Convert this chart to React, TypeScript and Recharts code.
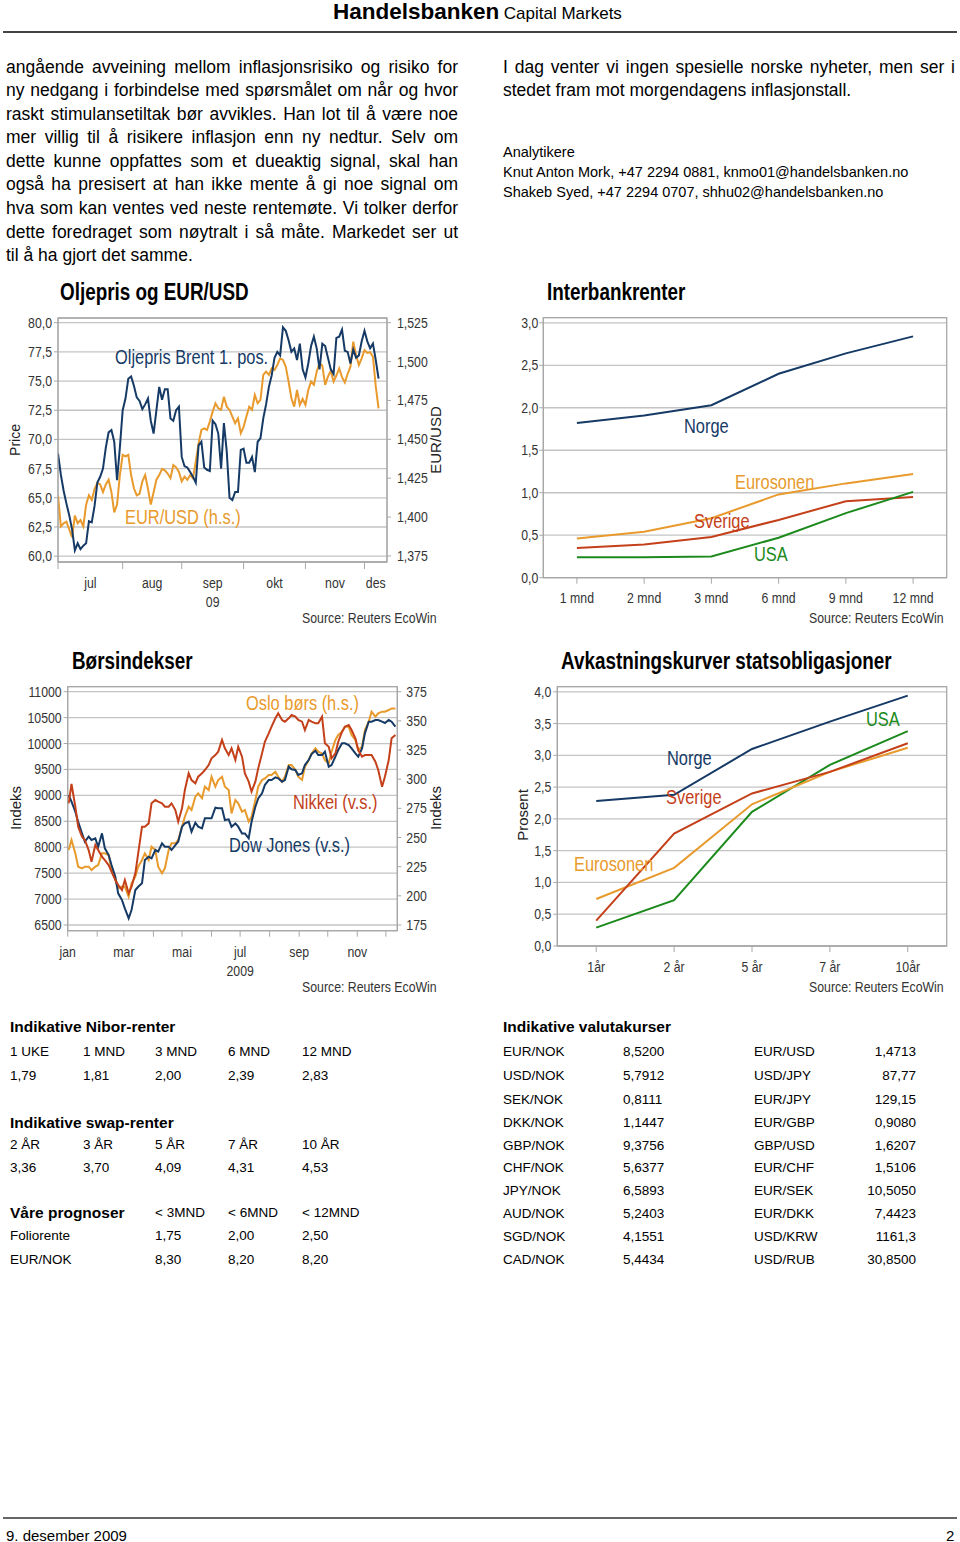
import React from "react";
import { LineChart, Line, XAxis, YAxis, CartesianGrid, ReferenceArea } from "recharts";

const SANS = '"Liberation Sans", Arial, Helvetica, sans-serif';
const SQUEEZE = 0.82; // Arial Narrow look from Liberation Sans

const NAVY = "#163a66";
const ORANGE = "#e89a2c";
const RED = "#c4401a";
const GREEN = "#1c8a1c";
const GRID = "#c4c4c4";
const AXIS = "#a8a8a8";
const INK = "#333";

// ---- Oljepris og EUR/USD (trading days from 1 July 2009) ----
const oilMonthStarts = [0, 23, 44, 66, 88, 109];
const oilMonthNames = ["jul", "aug", "sep", "okt", "nov", "des"];
const oilYearLine = ["", "", "09", "", "", ""];
const oilDomainEnd = 117;
const oilLeftTicks = [60, 62.5, 65, 67.5, 70, 72.5, 75, 77.5, 80];
const oilRightTicks = [1.375, 1.4, 1.425, 1.45, 1.475, 1.5, 1.525];

const oilPrice = [
  68.8, 67.0, 65.6, 64.5, 63.5, 62.3, 60.5, 61.1, 60.6, 60.9,
  61.1, 63.0, 62.9, 64.3, 66.3, 66.8, 67.5, 69.3, 70.6, 70.8,
  69.8, 66.5, 69.3, 72.5, 73.5, 75.2, 75.4, 74.6, 73.6, 73.3,
  72.6, 73.0, 73.5, 71.6, 70.5, 72.5, 74.5, 73.4, 74.3, 74.3,
  71.8, 71.6, 72.5, 72.8, 68.5, 67.7, 67.6, 67.2, 66.8, 66.3,
  69.5, 69.8, 67.6, 67.4, 67.3, 71.6, 71.3, 70.5, 67.5, 71.4,
  69.0, 65.0, 64.8, 65.5, 65.5, 69.1, 69.2, 68.0, 68.0, 68.5,
  67.2, 69.8, 70.1, 71.8, 73.0, 74.5, 75.5, 77.0, 77.5, 77.2,
  79.6, 79.3, 78.5, 77.5, 77.8, 76.8, 78.2, 76.0, 75.3, 76.5,
  78.0, 78.8, 77.8, 76.0, 78.2, 78.0, 77.0, 76.0, 75.6, 78.7,
  78.8, 79.4, 77.6, 77.5, 76.5, 77.7, 77.0, 77.2, 78.4, 79.3,
  78.4, 77.8, 78.2, 76.8, 75.2,
];

const eurUsd = [
  1.414, 1.394, 1.396, 1.397, 1.392, 1.387, 1.401, 1.396, 1.398, 1.394,
  1.408, 1.414, 1.411, 1.418, 1.422, 1.421, 1.416, 1.421, 1.424, 1.416,
  1.403, 1.408, 1.427, 1.44, 1.439, 1.44, 1.427, 1.4185, 1.414, 1.415,
  1.423, 1.427, 1.418, 1.408, 1.416, 1.424, 1.427, 1.431, 1.43, 1.428,
  1.425, 1.4335, 1.432, 1.429, 1.423, 1.426, 1.424, 1.427, 1.425, 1.4356,
  1.4474, 1.456, 1.457, 1.456, 1.4614, 1.4678, 1.4731, 1.4699, 1.469, 1.4774,
  1.471, 1.4689, 1.4646, 1.4603, 1.4635, 1.4539, 1.458, 1.4646, 1.471, 1.469,
  1.4785, 1.4732, 1.4753, 1.4914, 1.4935, 1.4914, 1.4956, 1.4946, 1.4978, 1.502,
  1.501, 1.4967, 1.4871, 1.4764, 1.471, 1.4817, 1.4721, 1.476, 1.4721, 1.4817,
  1.4871, 1.485, 1.4935, 1.4989, 1.4975, 1.485, 1.4903, 1.494, 1.4871, 1.491,
  1.4956, 1.49, 1.4865, 1.492, 1.4967, 1.5128, 1.5042, 1.4978, 1.502, 1.5074,
  1.5055, 1.506, 1.5031, 1.484, 1.4699,
];

// ---- Interbankrenter ----
const ibTerms = ["1 mnd", "2 mnd", "3 mnd", "6 mnd", "9 mnd", "12 mnd"];
const ibNorge = [1.82, 1.91, 2.03, 2.4, 2.64, 2.84];
const ibEuro = [0.46, 0.54, 0.7, 0.98, 1.11, 1.22];
const ibSverige = [0.35, 0.39, 0.48, 0.68, 0.9, 0.95];
const ibUsa = [0.24, 0.24, 0.25, 0.47, 0.76, 1.01];
const ibTicks = [0, 0.5, 1, 1.5, 2, 2.5, 3];

// ---- Børsindekser (calendar day of 2009) ----
const stockMonthStarts = [0, 31, 59, 90, 120, 151, 181, 212, 243, 273, 304, 334];
const stockMonthNames = ["jan", "", "mar", "", "mai", "", "jul", "", "sep", "", "nov", ""];
const stockYearLine = ["", "", "", "", "", "", "2009", "", "", "", "", ""];
const stockDomainEnd = 346;
const stockLeftTicks = [6500, 7000, 7500, 8000, 8500, 9000, 9500, 10000, 10500, 11000];
const stockRightTicks = [175, 200, 225, 250, 275, 300, 325, 350, 375];

const stockDays = [
  1, 4, 8, 11, 15, 18, 22, 25, 29, 32,
  36, 39, 43, 46, 50, 53, 57, 60, 64, 67,
  71, 74, 78, 81, 85, 88, 92, 95, 99, 102,
  106, 109, 113, 116, 120, 123, 127, 130, 134, 137,
  141, 144, 148, 151, 155, 158, 162, 165, 169, 172,
  176, 179, 183, 186, 190, 193, 197, 200, 204, 207,
  211, 214, 218, 221, 225, 228, 232, 235, 239, 242,
  246, 249, 253, 256, 260, 263, 267, 270, 274, 277,
  281, 284, 288, 291, 295, 298, 302, 305, 309, 312,
  316, 319, 323, 326, 330, 333, 337, 340, 344,
];

const dowJones = [
  9007, 8878, 8685, 8492, 8267, 8107, 8203, 8139, 8171, 8010,
  8267, 7978, 7849, 7656, 7431, 7110, 6981, 6820, 6628, 6788,
  7174, 7238, 7303, 7753, 7817, 7785, 7946, 7914, 8074, 8010,
  8010, 7946, 8042, 8107, 8396, 8460, 8492, 8299, 8473, 8396,
  8364, 8557, 8557, 8557, 8762, 8750, 8750, 8525, 8537, 8396,
  8460, 8396, 8267, 8267, 8171, 8492, 8782, 8942, 9039, 9200,
  9296, 9296, 9348, 9328, 9264, 9296, 9553, 9502, 9489, 9393,
  9425, 9585, 9682, 9798, 9862, 9778, 9778, 9843, 9553, 9585,
  9746, 9875, 10003, 10003, 9971, 9907, 9810, 9746, 9907, 10196,
  10421, 10421, 10453, 10453, 10421, 10396, 10453, 10421, 10325,
];

const nikkei = [
  8846, 9219, 8782, 8396, 8203, 8139, 7946, 7721, 8042, 7946,
  7817, 7753, 7656, 7528, 7367, 7271, 7174, 7367, 7110, 7238,
  7496, 7881, 8396, 8396, 8460, 8846, 8910, 8878, 8846, 8782,
  8782, 8846, 8717, 8492, 8750, 9103, 9425, 9296, 9232, 9360,
  9425, 9489, 9585, 9714, 9778, 9843, 10068, 9907, 9778, 9907,
  9682, 9939, 9746, 9425, 9264, 9071, 9264, 9521, 9810, 10035,
  10196, 10325, 10486, 10582, 10454, 10421, 10486, 10550, 10518, 10454,
  10421, 10261, 10454, 10421, 10389, 10389, 10518, 10003, 9939, 9714,
  9810, 10035, 10228, 10325, 10357, 10261, 10100, 9875, 9746, 9778,
  9778, 9778, 9650, 9489, 9167, 9360, 9682, 10100, 10164,
];

const osloBors = [
  239.3, 247.9, 236.4, 225.0, 223.6, 225.0, 225.0, 222.1, 225.0, 226.4,
  236.4, 236.4, 235.0, 222.1, 213.6, 206.4, 207.9, 207.9, 199.3, 210.7,
  216.4, 225.0, 230.7, 236.4, 230.7, 242.1, 239.3, 225.0, 219.3, 223.6,
  239.3, 245.0, 245.0, 247.9, 259.3, 267.9, 276.4, 273.6, 285.0, 287.9,
  283.6, 293.6, 290.7, 302.1, 293.6, 299.3, 302.1, 293.6, 290.7, 270.7,
  282.1, 279.3, 272.1, 273.6, 263.6, 267.9, 282.1, 293.6, 299.3, 300.7,
  303.6, 303.6, 306.4, 302.1, 297.9, 302.1, 312.1, 312.1, 307.9, 302.1,
  299.3, 310.7, 316.4, 322.1, 326.4, 323.6, 322.1, 316.4, 313.6, 323.6,
  333.6, 337.9, 340.7, 345.0, 345.0, 337.9, 333.6, 325.0, 327.9, 342.1,
  349.3, 357.9, 353.6, 356.4, 357.9, 357.9, 359.3, 360.7, 360.7,
];

// ---- Avkastningskurver statsobligasjoner ----
const ycTerms = ["1år", "2 år", "5 år", "7 år", "10år"];
const ycNorge = [2.28, 2.38, 3.1, 3.53, 3.94];
const ycSverige = [0.4, 1.77, 2.4, 2.74, 3.19];
const ycEuro = [0.74, 1.23, 2.23, 2.74, 3.12];
const ycUsa = [0.29, 0.72, 2.11, 2.85, 3.38];
const ycTicks = [0, 0.5, 1, 1.5, 2, 2.5, 3, 3.5, 4];

// ---- tables ----
const niborHead = ["1 UKE", "1 MND", "3 MND", "6 MND", "12 MND"];
const niborVals = ["1,79", "1,81", "2,00", "2,39", "2,83"];
const swapHead = ["2 ÅR", "3 ÅR", "5 ÅR", "7 ÅR", "10 ÅR"];
const swapVals = ["3,36", "3,70", "4,09", "4,31", "4,53"];
const progHead = ["< 3MND", "< 6MND", "< 12MND"];
const progFolio = ["1,75", "2,00", "2,50"];
const progEurNok = ["8,30", "8,20", "8,20"];

const fxLeftNames = ["EUR/NOK", "USD/NOK", "SEK/NOK", "DKK/NOK", "GBP/NOK", "CHF/NOK", "JPY/NOK", "AUD/NOK", "SGD/NOK", "CAD/NOK"];
const fxLeftVals = ["8,5200", "5,7912", "0,8111", "1,1447", "9,3756", "5,6377", "6,5893", "5,2403", "4,1551", "5,4434"];
const fxRightNames = ["EUR/USD", "USD/JPY", "EUR/JPY", "EUR/GBP", "GBP/USD", "EUR/CHF", "EUR/SEK", "EUR/DKK", "USD/KRW", "USD/RUB"];
const fxRightVals = ["1,4713", "87,77", "129,15", "0,9080", "1,6207", "1,5106", "10,5050", "7,4423", "1161,3", "30,8500"];

const leftText = [
  "angående avveining mellom inflasjonsrisiko og risiko for",
  "ny nedgang i forbindelse med spørsmålet om når og hvor",
  "raskt stimulansetiltak bør avvikles. Han lot til å være noe",
  "mer villig til å risikere inflasjon enn ny nedtur. Selv om",
  "dette kunne oppfattes som et dueaktig signal, skal han",
  "også ha presisert at han ikke mente å gi noe signal om",
  "hva som kan ventes ved neste rentemøte. Vi tolker derfor",
  "dette foredraget som nøytralt i så måte. Markedet ser ut",
  "til å ha gjort det samme.",
];
const rightText = [
  "I dag venter vi ingen spesielle norske nyheter, men ser i",
  "stedet fram mot morgendagens inflasjonstall.",
];
const analysts = [
  "Analytikere",
  "Knut Anton Mork, +47 2294 0881, knmo01@handelsbanken.no",
  "Shakeb Syed, +47 2294 0707, shhu02@handelsbanken.no",
];

const comma = (d: number) => (v: number) => v.toFixed(d).replace(".", ",");
const plain = (v: number) => String(v);
const emptyTick = () => <g />;

function NarrowSvgText({ x, y, anchor, dy, children }: any) {
  return (
    <text
      transform={`translate(${x},${y}) scale(${SQUEEZE},1)`}
      x={0}
      y={0}
      dy={dy}
      textAnchor={anchor}
      fill={INK}
      fontSize={15}
      fontFamily={SANS}
    >
      {children}
    </text>
  );
}

function yTick(fmt: (v: number) => string) {
  return (p: any) => (
    <NarrowSvgText x={p.x} y={p.y} anchor={p.textAnchor} dy={5}>
      {fmt(p.payload.value)}
    </NarrowSvgText>
  );
}

function bottomTick(labels: Map<any, string[]>, dy: number, gap: number) {
  return (p: any) => {
    const lines = labels.get(p.payload.value) ?? [];
    return (
      <g>
        {lines.map((s, i) =>
          s ? (
            <NarrowSvgText key={i} x={p.x} y={p.y} anchor="middle" dy={dy + i * gap}>
              {s}
            </NarrowSvgText>
          ) : null
        )}
      </g>
    );
  };
}

function Txt({ x, y, size, color = "#000", bold = false, narrow = false, children }: any) {
  return (
    <div
      style={{
        position: "absolute",
        left: x,
        top: y - size * 0.5,
        fontSize: size,
        lineHeight: `${size}px`,
        color,
        fontWeight: bold ? 700 : 400,
        fontFamily: SANS,
        whiteSpace: "nowrap",
        transform: narrow ? `scaleX(${SQUEEZE})` : undefined,
        transformOrigin: "0 50%",
      }}
    >
      {children}
    </div>
  );
}

function RTxt({ x, y, size, children }: any) {
  return (
    <div
      style={{
        position: "absolute",
        right: 960 - x,
        top: y - size * 0.5,
        fontSize: size,
        lineHeight: `${size}px`,
        fontFamily: SANS,
        whiteSpace: "nowrap",
      }}
    >
      {children}
    </div>
  );
}

function VTxt({ x, y, size, children }: any) {
  return (
    <div
      style={{
        position: "absolute",
        left: x,
        top: y,
        fontSize: size,
        lineHeight: `${size}px`,
        fontFamily: SANS,
        color: "#222",
        whiteSpace: "nowrap",
        transform: "translate(-50%, -50%) rotate(-90deg)",
      }}
    >
      {children}
    </div>
  );
}

function Para({ x, y, width, size, lh, lines, justify }: any) {
  return (
    <div style={{ position: "absolute", left: x, top: y, width, fontSize: size, lineHeight: `${lh}px`, fontFamily: SANS }}>
      {lines.map((l: string, i: number) => (
        <div
          key={i}
          style={{
            textAlign: justify ? "justify" : "left",
            textAlignLast: justify && i < lines.length - 1 ? "justify" : "left",
          }}
        >
          {l}
        </div>
      ))}
    </div>
  );
}

function Box({ x, y, children }: any) {
  return <div style={{ position: "absolute", left: x, top: y }}>{children}</div>;
}

const axisLine = { stroke: AXIS };

function OilChart() {
  const rows = oilPrice.map((v, i) => ({ day: i, oil: v, eur: eurUsd[i] }));
  const mids = oilMonthStarts.map((s, i) => (s + (oilMonthStarts[i + 1] ?? oilDomainEnd)) / 2);
  const labels = new Map(mids.map((m, i) => [m, [oilMonthNames[i], oilYearLine[i]]]));
  return (
    <LineChart width={480} height={330} data={rows} margin={{ top: 13, right: 33, bottom: 21, left: 13 }}>
      <CartesianGrid xAxisId="a" yAxisId="l" vertical={false} stroke={GRID} strokeWidth={1.3} />
      <ReferenceArea xAxisId="a" yAxisId="l" y1={59.5} y2={80.4} fill="none" stroke={AXIS} strokeWidth={1.3} />
      <XAxis xAxisId="b" dataKey="day" type="number" domain={[0, oilDomainEnd]} ticks={mids} interval={0} tick={bottomTick(labels, 19, 19)} tickSize={0} tickMargin={0} tickLine={false} axisLine={false} height={45} allowDataOverflow />
      <XAxis xAxisId="a" dataKey="day" type="number" domain={[0, oilDomainEnd]} ticks={oilMonthStarts} interval={0} tick={emptyTick} tickSize={7} height={7} axisLine={axisLine} tickLine={axisLine} allowDataOverflow />
      <YAxis yAxisId="l" domain={[59.5, 80.4]} ticks={oilLeftTicks} interval={0} width={45} tickSize={4} tickMargin={2} tick={yTick(comma(1))} axisLine={axisLine} tickLine={axisLine} allowDataOverflow />
      <YAxis yAxisId="r" orientation="right" domain={[1.3711, 1.528]} ticks={oilRightTicks} interval={0} width={60} tickSize={4} tickMargin={6} tick={yTick(comma(3))} axisLine={axisLine} tickLine={axisLine} allowDataOverflow />
      <Line xAxisId="a" yAxisId="r" dataKey="eur" stroke={ORANGE} strokeWidth={2} dot={false} isAnimationActive={false} />
      <Line xAxisId="a" yAxisId="l" dataKey="oil" stroke={NAVY} strokeWidth={2} dot={false} isAnimationActive={false} />
    </LineChart>
  );
}

function InterbankChart() {
  const rows = ibTerms.map((t, i) => ({ pos: i, norge: ibNorge[i], euro: ibEuro[i], sverige: ibSverige[i], usa: ibUsa[i] }));
  const labels = new Map(ibTerms.map((t, i) => [i, [t]]));
  return (
    <LineChart width={480} height={330} data={rows} margin={{ top: 12.7, right: 13.3, bottom: 17.3, left: 23.3 }}>
      <CartesianGrid vertical={false} stroke={GRID} strokeWidth={1.3} />
      <ReferenceArea y1={0} y2={3.06} fill="none" stroke={AXIS} strokeWidth={1.3} />
      <XAxis dataKey="pos" type="number" domain={[-0.5, ibTerms.length - 0.5]} ticks={rows.map((r) => r.pos)} interval={0} tickSize={6} tickMargin={0} tick={bottomTick(labels, 19, 19)} height={40} axisLine={axisLine} tickLine={axisLine} allowDataOverflow />
      <YAxis domain={[0, 3.06]} ticks={ibTicks} interval={0} width={40} tickSize={4} tickMargin={1} tick={yTick(comma(1))} axisLine={axisLine} tickLine={axisLine} allowDataOverflow />
      <Line dataKey="norge" stroke={NAVY} strokeWidth={2} dot={false} isAnimationActive={false} />
      <Line dataKey="euro" stroke={ORANGE} strokeWidth={2} dot={false} isAnimationActive={false} />
      <Line dataKey="sverige" stroke={RED} strokeWidth={2} dot={false} isAnimationActive={false} />
      <Line dataKey="usa" stroke={GREEN} strokeWidth={2} dot={false} isAnimationActive={false} />
    </LineChart>
  );
}

function StockChart() {
  const rows = stockDays.map((d, i) => ({ day: d, dow: dowJones[i], nikkei: nikkei[i], oslo: osloBors[i] }));
  const labels = new Map(stockMonthStarts.map((s, i) => [s, [stockMonthNames[i], stockYearLine[i]]]));
  return (
    <LineChart width={480} height={330} data={rows} margin={{ top: 16.7, right: 32.7, bottom: 19.3, left: 12.7 }}>
      <CartesianGrid xAxisId="m" yAxisId="l" vertical={false} stroke={GRID} strokeWidth={1.3} />
      <ReferenceArea xAxisId="m" yAxisId="l" y1={6390} y2={11096} fill="none" stroke={AXIS} strokeWidth={1.3} />
      <XAxis xAxisId="m" dataKey="day" type="number" domain={[0, stockDomainEnd]} ticks={stockMonthStarts} interval={0} tickSize={6} tickMargin={0} tick={bottomTick(labels, 20, 19)} height={50} axisLine={axisLine} tickLine={axisLine} allowDataOverflow />
      <YAxis yAxisId="l" domain={[6390, 11096]} ticks={stockLeftTicks} interval={0} width={55} tickSize={4} tickMargin={2} tick={yTick(plain)} axisLine={axisLine} tickLine={axisLine} allowDataOverflow />
      <YAxis yAxisId="r" orientation="right" domain={[170.1, 379.3]} ticks={stockRightTicks} interval={0} width={50} tickSize={4} tickMargin={5} tick={yTick(plain)} axisLine={axisLine} tickLine={axisLine} allowDataOverflow />
      <Line xAxisId="m" yAxisId="r" dataKey="oslo" stroke={ORANGE} strokeWidth={2} dot={false} isAnimationActive={false} />
      <Line xAxisId="m" yAxisId="l" dataKey="dow" stroke={NAVY} strokeWidth={2} dot={false} isAnimationActive={false} />
      <Line xAxisId="m" yAxisId="l" dataKey="nikkei" stroke={RED} strokeWidth={2} dot={false} isAnimationActive={false} />
    </LineChart>
  );
}

function YieldChart() {
  const rows = ycTerms.map((t, i) => ({ pos: i, norge: ycNorge[i], sverige: ycSverige[i], euro: ycEuro[i], usa: ycUsa[i] }));
  const labels = new Map(ycTerms.map((t, i) => [i, [t]]));
  return (
    <LineChart width={480} height={330} data={rows} margin={{ top: 16.7, right: 13.3, bottom: 19, left: 37.3 }}>
      <CartesianGrid vertical={false} stroke={GRID} strokeWidth={1.3} />
      <ReferenceArea y1={0} y2={4.08} fill="none" stroke={AXIS} strokeWidth={1.3} />
      <XAxis dataKey="pos" type="number" domain={[-0.5, ycTerms.length - 0.5]} ticks={rows.map((r) => r.pos)} interval={0} tickSize={6} tickMargin={0} tick={bottomTick(labels, 20, 19)} height={35} axisLine={axisLine} tickLine={axisLine} allowDataOverflow />
      <YAxis domain={[0, 4.08]} ticks={ycTicks} interval={0} width={40} tickSize={4} tickMargin={2} tick={yTick(comma(1))} axisLine={axisLine} tickLine={axisLine} allowDataOverflow />
      <Line dataKey="norge" stroke={NAVY} strokeWidth={2} dot={false} isAnimationActive={false} />
      <Line dataKey="usa" stroke={GREEN} strokeWidth={2} dot={false} isAnimationActive={false} />
      <Line dataKey="euro" stroke={ORANGE} strokeWidth={2} dot={false} isAnimationActive={false} />
      <Line dataKey="sverige" stroke={RED} strokeWidth={2} dot={false} isAnimationActive={false} />
    </LineChart>
  );
}

const colX = [10, 83, 155, 228, 302];
const fxRowY = [1052, 1076, 1100, 1123, 1146, 1168, 1191, 1214, 1237, 1260];

export default function App() {
  return (
    <div style={{ position: "absolute", left: 0, top: 0, width: 960, height: 1542, background: "#fff", overflow: "hidden", fontFamily: SANS, color: "#000" }}>
      {/* header */}
      <div style={{ position: "absolute", left: 333, top: 0, whiteSpace: "nowrap", fontFamily: SANS, lineHeight: "24px" }}>
        <span style={{ fontSize: 22.5, fontWeight: 700 }}>Handelsbanken</span>{" "}
        <span style={{ fontSize: 17 }}>Capital Markets</span>
      </div>
      <div style={{ position: "absolute", left: 3, top: 31, width: 954, height: 2, background: "#444" }} />

      <Para x={6} y={55.5} width={452} size={17.5} lh={23.6} lines={leftText} justify />
      <Para x={503} y={55.5} width={452} size={17.5} lh={23.6} lines={rightText} justify />
      <Para x={503} y={142} width={452} size={14.5} lh={20} lines={analysts} />

      {/* Oljepris og EUR/USD */}
      <Txt x={60} y={292} size={23} bold narrow>Oljepris og EUR/USD</Txt>
      <Box x={0} y={305}><OilChart /></Box>
      <VTxt x={15} y={440} size={14}>Price</VTxt>
      <VTxt x={435} y={440} size={15}>EUR/USD</VTxt>
      <Txt x={115} y={357} size={20} color={NAVY} narrow>Oljepris Brent 1. pos.</Txt>
      <Txt x={125} y={517} size={20} color={ORANGE} narrow>EUR/USD (h.s.)</Txt>
      <Txt x={302} y={617} size={15} color={INK} narrow>Source: Reuters EcoWin</Txt>

      {/* Interbankrenter */}
      <Txt x={547} y={292} size={23} bold narrow>Interbankrenter</Txt>
      <Box x={480} y={305}><InterbankChart /></Box>
      <Txt x={684} y={426} size={20} color={NAVY} narrow>Norge</Txt>
      <Txt x={735} y={482} size={20} color={ORANGE} narrow>Eurosonen</Txt>
      <Txt x={694} y={521} size={20} color={RED} narrow>Sverige</Txt>
      <Txt x={754} y={554} size={20} color={GREEN} narrow>USA</Txt>
      <Txt x={809} y={617} size={15} color={INK} narrow>Source: Reuters EcoWin</Txt>

      {/* Børsindekser */}
      <Txt x={72} y={661} size={23} bold narrow>Børsindekser</Txt>
      <Box x={0} y={670}><StockChart /></Box>
      <VTxt x={15} y={808} size={15}>Indeks</VTxt>
      <VTxt x={435} y={808} size={15}>Indeks</VTxt>
      <Txt x={246} y={703} size={20} color={ORANGE} narrow>Oslo børs (h.s.)</Txt>
      <Txt x={293} y={802} size={20} color={RED} narrow>Nikkei (v.s.)</Txt>
      <Txt x={229} y={845} size={20} color={NAVY} narrow>Dow Jones (v.s.)</Txt>
      <Txt x={302} y={986} size={15} color={INK} narrow>Source: Reuters EcoWin</Txt>

      {/* Avkastningskurver */}
      <Txt x={561} y={661} size={23} bold narrow>Avkastningskurver statsobligasjoner</Txt>
      <Box x={480} y={670}><YieldChart /></Box>
      <VTxt x={522} y={815} size={15}>Prosent</VTxt>
      <Txt x={866} y={719} size={20} color={GREEN} narrow>USA</Txt>
      <Txt x={667} y={758} size={20} color={NAVY} narrow>Norge</Txt>
      <Txt x={666} y={797} size={20} color={RED} narrow>Sverige</Txt>
      <Txt x={574} y={864} size={20} color={ORANGE} narrow>Eurosonen</Txt>
      <Txt x={809} y={986} size={15} color={INK} narrow>Source: Reuters EcoWin</Txt>

      {/* left tables */}
      <Txt x={10} y={1027} size={15.5} bold>Indikative Nibor-renter</Txt>
      {niborHead.map((s, i) => <Txt key={"nh" + i} x={colX[i]} y={1052} size={13.5}>{s}</Txt>)}
      {niborVals.map((s, i) => <Txt key={"nv" + i} x={colX[i]} y={1076} size={13.5}>{s}</Txt>)}
      <Txt x={10} y={1123} size={15.5} bold>Indikative swap-renter</Txt>
      {swapHead.map((s, i) => <Txt key={"sh" + i} x={colX[i]} y={1145} size={13.5}>{s}</Txt>)}
      {swapVals.map((s, i) => <Txt key={"sv" + i} x={colX[i]} y={1168} size={13.5}>{s}</Txt>)}
      <Txt x={10} y={1213} size={15.5} bold>Våre prognoser</Txt>
      {progHead.map((s, i) => <Txt key={"ph" + i} x={colX[i + 2]} y={1213} size={13.5}>{s}</Txt>)}
      <Txt x={10} y={1236} size={13.5}>Foliorente</Txt>
      {progFolio.map((s, i) => <Txt key={"pf" + i} x={colX[i + 2]} y={1236} size={13.5}>{s}</Txt>)}
      <Txt x={10} y={1260} size={13.5}>EUR/NOK</Txt>
      {progEurNok.map((s, i) => <Txt key={"pe" + i} x={colX[i + 2]} y={1260} size={13.5}>{s}</Txt>)}

      {/* right table */}
      <Txt x={503} y={1027} size={15.5} bold>Indikative valutakurser</Txt>
      {fxRowY.map((y, i) => (
        <React.Fragment key={"fx" + i}>
          <Txt x={503} y={y} size={13.5}>{fxLeftNames[i]}</Txt>
          <Txt x={623} y={y} size={13.5}>{fxLeftVals[i]}</Txt>
          <Txt x={754} y={y} size={13.5}>{fxRightNames[i]}</Txt>
          <RTxt x={916} y={y} size={13.5}>{fxRightVals[i]}</RTxt>
        </React.Fragment>
      ))}

      {/* footer */}
      <div style={{ position: "absolute", left: 3, top: 1517, width: 954, height: 2, background: "#666" }} />
      <Txt x={6} y={1535} size={15}>9. desember 2009</Txt>
      <Txt x={946} y={1535} size={15}>2</Txt>
    </div>
  );
}
